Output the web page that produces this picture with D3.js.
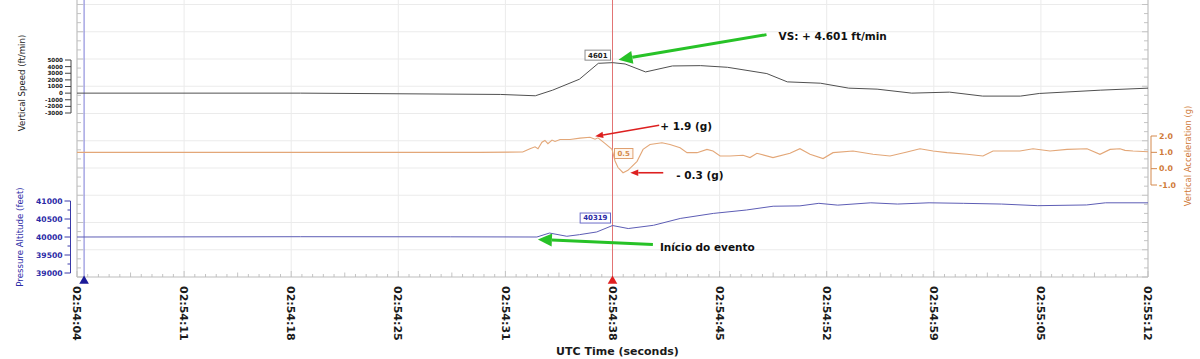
<!DOCTYPE html>
<html><head><meta charset="utf-8">
<script src="https://cdn.jsdelivr.net/npm/d3@7"></script>
<style>body{margin:0;background:#fff;} svg{display:block;font-family:"DejaVu Sans",Verdana,sans-serif;}</style>
</head><body><svg id="c" width="1200" height="359"></svg>
<script>
// ---------------- DATA ----------------
const timeTickLabels = ["02:54:04","02:54:11","02:54:18","02:54:25","02:54:31","02:54:38","02:54:45","02:54:52","02:54:59","02:55:05","02:55:12"];
const timeSpan = 68; // seconds shown on the axis

const vsTime   = [0, 14.2, 26.9, 29.1, 30.2, 31.9, 33.1, 34.0, 34.8, 36.1, 37.8, 39.6, 41.3, 43.8, 45.1, 47.2, 49.0, 50.8, 53.0, 55.4, 57.5, 59.9, 61.1, 65.0, 68.0];
const vsValues = [0, 0, -200, -400, 450, 2100, 4500, 4601, 4400, 3200, 4100, 4150, 3900, 2950, 1700, 1500, 750, 600, 0, 150, -450, -450, -50, 450, 750];

const accTime   = [0, 10, 20, 25.6, 28.3, 28.76, 29.08, 29.27, 29.52, 29.71, 29.9, 30.16, 30.35, 30.67, 31.3, 31.94, 32.57, 32.89, 33.08, 33.52, 33.97, 34.16, 34.35, 34.67, 34.98, 35.56, 35.94, 36.38, 37.14, 37.65, 38.29, 38.73, 39.37, 40.0, 40.38, 40.83, 41.46, 42.29, 42.73, 43.17, 44.19, 45.27, 45.9, 46.54, 47.37, 48.0, 49.27, 50.54, 51.62, 52.7, 53.52, 54.35, 55.24, 56.51, 57.52, 58.16, 59.87, 60.7, 61.78, 62.86, 64.13, 64.95, 65.59, 66.22, 66.54, 67.05, 68.0];
const accValues = [1.0, 1.0, 1.0, 1.0, 1.02, 1.22, 1.34, 1.22, 1.62, 1.73, 1.53, 1.75, 1.67, 1.79, 1.79, 1.87, 1.92, 1.8, 1.89, 1.55, 1.18, 0.47, 0.07, -0.25, -0.1, 0.45, 1.18, 1.48, 1.59, 1.48, 1.28, 0.98, 0.98, 1.18, 1.08, 0.78, 0.78, 0.82, 0.68, 0.94, 0.68, 0.94, 1.22, 0.88, 0.62, 0.98, 1.08, 0.88, 0.78, 1.02, 1.22, 1.08, 0.98, 0.88, 0.78, 1.08, 1.08, 1.22, 1.08, 1.18, 1.22, 0.88, 1.18, 1.22, 1.12, 1.08, 1.04];

const altTime   = [0, 14.2, 23.7, 29.2, 30.0, 31.1, 31.9, 33.0, 34.0, 35.0, 36.6, 38.3, 40.4, 42.5, 44.2, 45.9, 47.1, 48.3, 50.4, 52.1, 54.1, 56.3, 58.7, 61.0, 64.1, 65.3, 68.0];
const altValues = [40000, 40008, 40005, 40000, 40110, 40020, 40065, 40140, 40319, 40235, 40325, 40515, 40655, 40750, 40855, 40865, 40935, 40885, 40950, 40915, 40950, 40935, 40915, 40870, 40890, 40950, 40950];

const vsTicks  = [5000, 4000, 3000, 2000, 1000, 0, -1000, -2000, -3000];
const accTicks = [2.0, 1.0, 0.0, -1.0];
const altTicks = [41000, 40500, 40000, 39500, 39000];

const cursorTime = 34;        // red cursor (02:54:38)
const startCursorTime = 0.45; // blue cursor
const vsCursorValue = 4601, accCursorValue = 0.5, altCursorValue = 40319;

// ---------------- SCALES ----------------
const svg = d3.select("#c");
const x = d3.scaleLinear().domain([0, timeSpan]).range([77, 1148]);
const yVS = d3.scaleLinear().domain([-3000, 5000]).range([113, 60]);
const yAcc = d3.scaleLinear().domain([-1, 2]).range([185, 136]);
const yAlt = d3.scaleLinear().domain([39000, 41000]).range([273, 201]);
const gridY = d3.scaleLinear().domain([0, 10]).range([277, 4.5]);
const plotBottom = 277, plotTop = 0;

// ---------------- GRID & FRAME ----------------
const gGrid = svg.append("g");
const majorTimes = d3.range(timeTickLabels.length).map(i => i * timeSpan / (timeTickLabels.length - 1));
gGrid.selectAll("line.v").data(majorTimes).join("line")
  .attr("x1", d => x(d)).attr("x2", d => x(d)).attr("y1", plotTop).attr("y2", plotBottom)
  .attr("stroke", "#ebebeb").attr("stroke-width", 1);
gGrid.selectAll("line.h").data(d3.range(1, 11)).join("line")
  .attr("x1", x(0)).attr("x2", x(timeSpan)).attr("y1", d => gridY(d)).attr("y2", d => gridY(d))
  .attr("stroke", "#ebebeb").attr("stroke-width", 1);

const minorT = d3.range(0, timeSpan + 0.01, timeSpan / 100);
gGrid.selectAll("line.mb").data(minorT).join("line")
  .attr("x1", d => x(d)).attr("x2", d => x(d))
  .attr("y1", (d, i) => plotBottom - (i % 10 === 0 ? 6 : (i % 5 === 0 ? 4.5 : 3))).attr("y2", plotBottom)
  .attr("stroke", "#c4c4c4");
const minorY = d3.range(0, 10.01, 1 / 3);
gGrid.selectAll("line.ml").data(minorY).join("line")
  .attr("x1", x(0)).attr("x2", (d, i) => x(0) + (i % 3 === 0 ? 6 : 4))
  .attr("y1", d => gridY(d)).attr("y2", d => gridY(d)).attr("stroke", "#c4c4c4");
gGrid.selectAll("line.mr").data(minorY).join("line")
  .attr("x1", x(timeSpan)).attr("x2", (d, i) => x(timeSpan) - (i % 3 === 0 ? 6 : 4))
  .attr("y1", d => gridY(d)).attr("y2", d => gridY(d)).attr("stroke", "#c4c4c4");

svg.append("line").attr("x1", x(0)).attr("x2", x(0)).attr("y1", plotTop).attr("y2", plotBottom).attr("stroke", "#bdbdbd");
svg.append("line").attr("x1", x(timeSpan)).attr("x2", x(timeSpan)).attr("y1", plotTop).attr("y2", plotBottom).attr("stroke", "#bdbdbd");
svg.append("line").attr("x1", x(0)).attr("x2", x(timeSpan)).attr("y1", plotBottom).attr("y2", plotBottom).attr("stroke", "#bdbdbd");

// ---------------- CURSORS ----------------
svg.append("line").attr("x1", x(startCursorTime)).attr("x2", x(startCursorTime)).attr("y1", plotTop).attr("y2", plotBottom)
  .attr("stroke", "#7b7bd6").attr("stroke-width", 1);
svg.append("path").attr("d", d3.symbol(d3.symbolTriangle, 40)())
  .attr("transform", `translate(${x(startCursorTime)},${plotBottom + 4})`).attr("fill", "#1a1a99");
svg.append("line").attr("x1", x(cursorTime)).attr("x2", x(cursorTime)).attr("y1", plotTop).attr("y2", plotBottom)
  .attr("stroke", "#e27474").attr("stroke-width", 1);
svg.append("path").attr("d", d3.symbol(d3.symbolTriangle, 40)())
  .attr("transform", `translate(${x(cursorTime)},${plotBottom + 4})`).attr("fill", "#e02020");

// ---------------- X AXIS LABELS ----------------
svg.selectAll("text.xt").data(majorTimes).join("text")
  .attr("transform", d => `translate(${x(d)},286) rotate(90)`)
  .attr("dy", "0.35em").attr("font-size", 11).attr("font-weight", "bold").attr("fill", "#1a1a1a")
  .text((d, i) => timeTickLabels[i]);
svg.append("text").attr("x", (x(0) + x(timeSpan)) / 2 + 5).attr("y", 355).attr("text-anchor", "middle")
  .attr("font-size", 11).attr("font-weight", "bold").attr("fill", "#1a1a1a").text("UTC Time (seconds)");

// ---------------- SERIES ----------------
const zipLine = (ts, vs, ys) => d3.line().x(i => x(ts[i])).y(i => ys(vs[i]))(d3.range(ts.length));
svg.append("path").attr("d", zipLine(vsTime, vsValues, yVS)).attr("fill", "none").attr("stroke", "#505050").attr("stroke-width", 1);
svg.append("path").attr("d", zipLine(accTime, accValues, yAcc)).attr("fill", "none").attr("stroke", "#e3a778").attr("stroke-width", 1.1);
svg.append("path").attr("d", zipLine(altTime, altValues, yAlt)).attr("fill", "none").attr("stroke", "#5d5db5").attr("stroke-width", 1);

// ---------------- Y AXES ----------------
const vsAx = svg.append("g").attr("transform", "translate(71,0)");
vsAx.append("line").attr("y1", yVS(5000)).attr("y2", yVS(-3000)).attr("stroke", "#444");
vsAx.selectAll("line.t").data(vsTicks).join("line").attr("x1", -6).attr("x2", 0)
  .attr("y1", d => yVS(d)).attr("y2", d => yVS(d)).attr("stroke", "#444");
vsAx.selectAll("text").data(vsTicks).join("text").attr("x", -8).attr("y", d => yVS(d)).attr("dy", "0.35em")
  .attr("text-anchor", "end").attr("font-size", 5.6).attr("font-weight", "bold").attr("fill", "#222").text(d => d);
svg.append("text").attr("transform", "translate(25,83) rotate(-90)").attr("text-anchor", "middle")
  .attr("font-size", 8.6).attr("fill", "#222").text("Vertical Speed (ft/min)");

const altAx = svg.append("g").attr("transform", "translate(70.5,0)");
altAx.append("line").attr("y1", yAlt(41000)).attr("y2", yAlt(39000)).attr("stroke", "#3a3aa8");
altAx.selectAll("line.t").data(d3.range(39000, 41001, 250)).join("line")
  .attr("x1", d => d % 500 === 0 ? -6 : -3).attr("x2", 0)
  .attr("y1", d => yAlt(d)).attr("y2", d => yAlt(d)).attr("stroke", "#3a3aa8");
altAx.selectAll("text").data(altTicks).join("text").attr("x", -8).attr("y", d => yAlt(d)).attr("dy", "0.35em")
  .attr("text-anchor", "end").attr("font-size", 7.6).attr("font-weight", "bold").attr("fill", "#2a2aa6").text(d => d);
svg.append("text").attr("transform", "translate(23,237) rotate(-90)").attr("text-anchor", "middle")
  .attr("font-size", 8.6).attr("fill", "#2a2aa6").text("Pressure Altitude (feet)");

const accAx = svg.append("g").attr("transform", "translate(1151,0)");
accAx.append("line").attr("y1", yAcc(2)).attr("y2", yAcc(-1)).attr("stroke", "#d4894c");
accAx.selectAll("line.t").data(accTicks).join("line").attr("x1", 0).attr("x2", 6)
  .attr("y1", d => yAcc(d)).attr("y2", d => yAcc(d)).attr("stroke", "#d4894c");
accAx.selectAll("text").data(accTicks).join("text").attr("x", 8).attr("y", d => yAcc(d)).attr("dy", "0.35em")
  .attr("font-size", 7.8).attr("font-weight", "bold").attr("fill", "#cf7a38").text(d => d3.format(".1f")(d).replace("−", "-"));
svg.append("text").attr("transform", "translate(1191,156) rotate(-90)").attr("text-anchor", "middle")
  .attr("font-size", 8.4).attr("fill", "#cf7a38").text("Vertical Acceleration (g)");

// ---------------- VALUE BOXES ----------------
function valueBox(label, cx, cy, side, stroke, fill, color) {
  const g = svg.append("g");
  const r = g.append("rect");
  const t = g.append("text").attr("y", cy).attr("dy", "0.35em").attr("font-size", 7).attr("font-weight", "bold")
    .attr("fill", color).text(label);
  const w = t.node().getComputedTextLength() + 6;
  const x0 = side === "left" ? cx - 2 - w : cx + 2;
  r.attr("x", x0).attr("y", cy - 5).attr("width", w).attr("height", 10)
    .attr("fill", fill).attr("stroke", stroke).attr("stroke-width", 1);
  t.attr("x", x0 + 3);
}
valueBox(String(vsCursorValue), x(cursorTime), yVS(vsCursorValue) - 7.5, "left", "#8a8a8a", "#fff", "#222");
valueBox(d3.format(".1f")(accCursorValue), x(cursorTime), yAcc(accCursorValue) - 7, "right", "#e0a070", "#fff7ef", "#d4894c");
valueBox(String(altCursorValue), x(cursorTime), yAlt(altCursorValue) - 7.5, "left", "#6b6bc8", "#fff", "#2a2aa6");

// ---------------- ANNOTATIONS ----------------
function arrow(x1, y1, x2, y2, color, sw, hl, hw) {
  const a = Math.atan2(y2 - y1, x2 - x1);
  const bx = x2 - hl * Math.cos(a), by = y2 - hl * Math.sin(a);
  svg.append("line").attr("x1", x1).attr("y1", y1).attr("x2", bx).attr("y2", by)
    .attr("stroke", color).attr("stroke-width", sw);
  const px = -Math.sin(a) * hw, py = Math.cos(a) * hw;
  svg.append("path").attr("d", `M${x2},${y2}L${bx + px},${by + py}L${bx - px},${by - py}Z`).attr("fill", color);
}
function note(txt, tx, ty) {
  svg.append("text").attr("x", tx).attr("y", ty).attr("dy", "0.35em").attr("font-size", 10.5)
    .attr("font-weight", "bold").attr("fill", "#111").text(txt);
}
{
  const tx = x(cursorTime) + 6, ty = yVS(vsCursorValue) - 3;
  arrow(tx + 148, ty - 25, tx, ty, "#27c227", 3, 14, 6.5);
  note("VS: + 4.601 ft/min", tx + 160, ty - 23);
}
{
  const tx = x(32.9), ty = yAcc(1.92) - 1;
  arrow(tx + 64, ty - 11, tx, ty, "#dd2020", 1.6, 8, 3.2);
  note("+ 1.9 (g)", tx + 65, ty - 10);
}
{
  const tx = x(35.0) + 2, ty = yAcc(-0.25);
  arrow(tx + 33, ty, tx, ty, "#dd2020", 1.6, 8, 3.2);
  note("- 0.3 (g)", tx + 46, ty + 3);
}
{
  const tx = x(29.2) + 1, ty = yAlt(40000) + 2.5;
  arrow(tx + 115, ty + 5, tx, ty, "#27c227", 3, 14, 6.5);
  note("Início do evento", tx + 122, ty + 8);
}
</script></body></html>
